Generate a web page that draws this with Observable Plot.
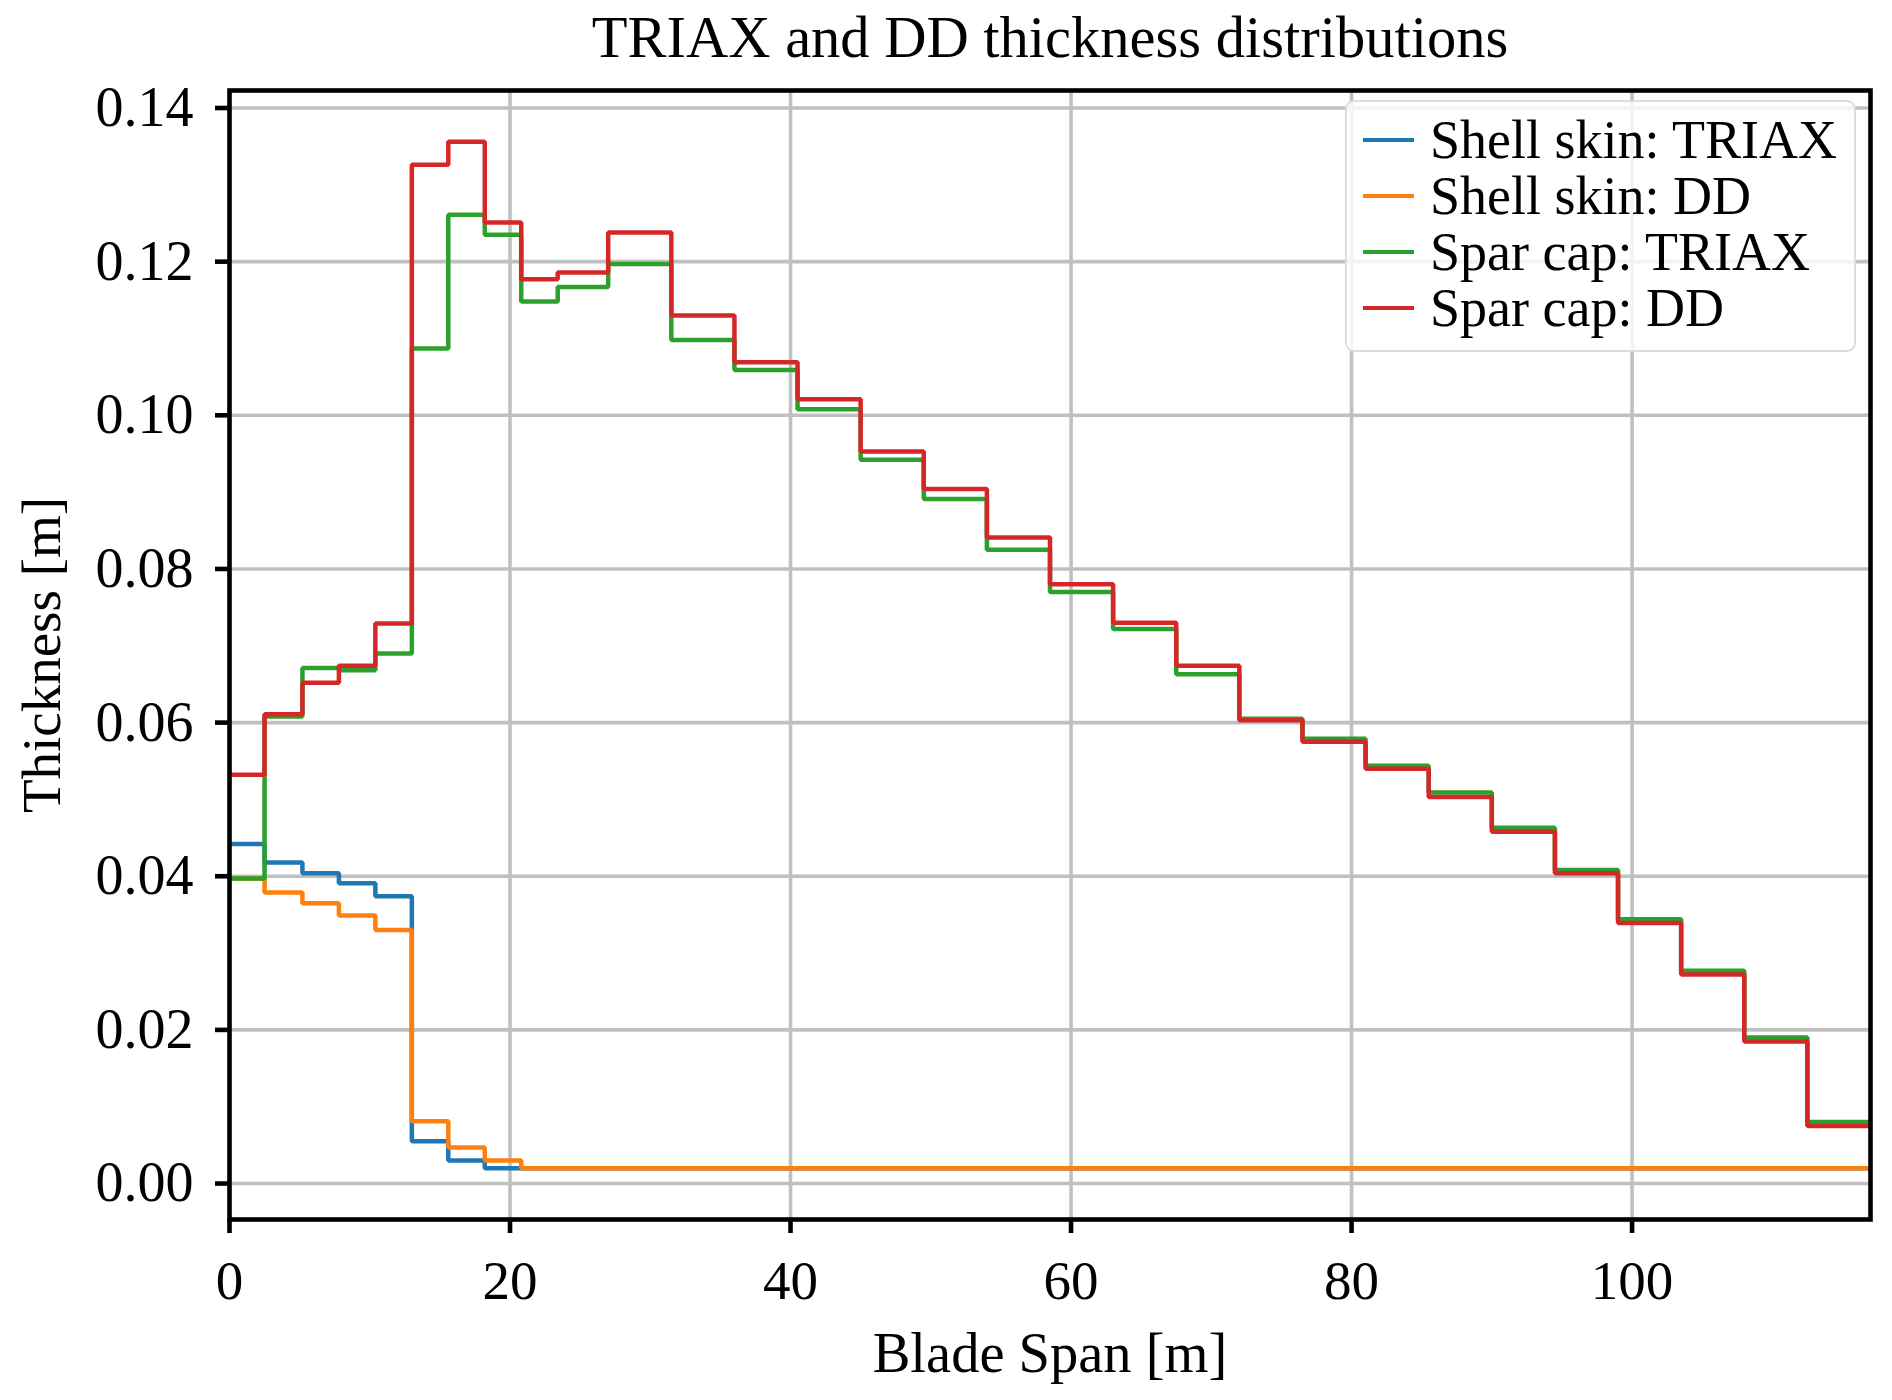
<!DOCTYPE html>
<html>
<head>
<meta charset="utf-8">
<script src="https://cdn.jsdelivr.net/npm/d3@7"></script>
<script src="https://cdn.jsdelivr.net/npm/@observablehq/plot@0.6"></script>
<style>
  html, body { margin: 0; padding: 0; background: #fff; }
  #wrap { position: relative; width: 1892px; height: 1400px; }
  .legend {
    position: absolute; left: 1345px; top: 100px; width: 507px; height: 238px;
    border: 2px solid #dcdcdc; border-radius: 9px; background: rgba(255,255,255,0.8);
    font-family: "Liberation Serif", serif; font-size: 54px; color: #000;
    box-sizing: content-box; padding-top: 10px;
  }
  .legend .row { display: flex; align-items: center; height: 56px; white-space: pre; }
  .legend .sw { display: inline-block; width: 51px; height: 4.5px; margin-left: 16px; margin-right: 16px; }
</style>
</head>
<body>
<div id="wrap"></div>
<script>
// Blade span station edges [m]
const span = [0, 2.5, 5.2, 7.8, 10.4, 13.0, 15.6, 18.2, 20.8, 23.4, 27.0, 31.5, 36.0, 40.5, 45.0, 49.5, 54.0, 58.5, 63.0, 67.5, 72.0, 76.5, 81.0, 85.5, 90.0, 94.5, 99.0, 103.5, 108.0, 112.5, 117.0];

// Thickness per segment [m]
const shellTriax = [0.0442, 0.0418, 0.0404, 0.0391, 0.0374, 0.0055, 0.0030, 0.0020, 0.0020, 0.0020, 0.0020, 0.0020, 0.0020, 0.0020, 0.0020, 0.0020, 0.0020, 0.0020, 0.0020, 0.0020, 0.0020, 0.0020, 0.0020, 0.0020, 0.0020, 0.0020, 0.0020, 0.0020, 0.0020, 0.0020];
const shellDD = [0.0397, 0.0379, 0.0365, 0.0349, 0.0330, 0.0081, 0.0047, 0.0030, 0.0020, 0.0020, 0.0020, 0.0020, 0.0020, 0.0020, 0.0020, 0.0020, 0.0020, 0.0020, 0.0020, 0.0020, 0.0020, 0.0020, 0.0020, 0.0020, 0.0020, 0.0020, 0.0020, 0.0020, 0.0020, 0.0020];
const sparTriax = [0.0397, 0.0608, 0.0671, 0.0668, 0.0690, 0.1087, 0.1261, 0.1235, 0.1148, 0.1167, 0.1197, 0.1098, 0.1059, 0.1008, 0.0942, 0.0891, 0.0825, 0.0770, 0.0722, 0.0663, 0.0605, 0.0579, 0.0544, 0.0509, 0.0463, 0.0408, 0.0344, 0.0277, 0.0190, 0.0080];
const sparDD = [0.0532, 0.0611, 0.0652, 0.0674, 0.0729, 0.1326, 0.1356, 0.1251, 0.1177, 0.1186, 0.1238, 0.1130, 0.1069, 0.1021, 0.0953, 0.0904, 0.0841, 0.0780, 0.0730, 0.0674, 0.0603, 0.0575, 0.0540, 0.0503, 0.0458, 0.0404, 0.0339, 0.0272, 0.0185, 0.0075];

const seriesNames = ["Shell skin: TRIAX", "Shell skin: DD", "Spar cap: TRIAX", "Spar cap: DD"];
const seriesColors = ["#1f77b4", "#ff7f0e", "#2ca02c", "#d62728"];
const xTicks = [0, 20, 40, 60, 80, 100];
const yTicks = [0, 0.02, 0.04, 0.06, 0.08, 0.10, 0.12, 0.14];
const titleText = "TRIAX and DD thickness distributions";
const xLabel = "Blade Span [m]";
const yLabel = "Thickness [m]";

const allSeries = [shellTriax, shellDD, sparTriax, sparDD];
const rows = allSeries.flatMap((vals, s) =>
  span.map((x, i) => ({x, y: vals[Math.min(i, vals.length - 1)], s: seriesNames[s]}))
);
const allY = allSeries.flat();
const ymin = d3.min(allY), ymax = d3.max(allY), pad = (ymax - ymin) * 0.05;

const font = "Liberation Serif";
const plot = Plot.plot({
  width: 1892,
  height: 1400,
  marginLeft: 229,
  marginRight: 22,
  marginTop: 90,
  marginBottom: 181,
  style: {fontFamily: font, background: "white", color: "black"},
  x: {domain: [span[0], span[span.length - 1]]},
  y: {domain: [ymin - pad, ymax + pad]},
  color: {domain: seriesNames, range: seriesColors},
  marks: [
    Plot.gridX(xTicks, {stroke: "#c0c0c0", strokeOpacity: 1, strokeWidth: 3.6}),
    Plot.gridY(yTicks, {stroke: "#c0c0c0", strokeOpacity: 1, strokeWidth: 3.6}),
    Plot.line(rows, {x: "x", y: "y", z: "s", stroke: "s", curve: "step-after", strokeWidth: 4.5, strokeLinejoin: "miter", strokeLinecap: "butt"}),
    Plot.frame({stroke: "black", strokeWidth: 4.6}),
    Plot.axisX(xTicks, {tickSize: 14, tickPadding: 26, fontSize: 55, strokeWidth: 4.6, label: null}),
    Plot.axisY(yTicks, {tickSize: 14, tickPadding: 22, fontSize: 56, strokeWidth: 4.6, tickFormat: d3.format(".2f"), label: null}),
    Plot.text([titleText], {text: d => d, frameAnchor: "top", lineAnchor: "middle", textAnchor: "middle", dy: -52, fontSize: 58.5, fill: "black"}),
    Plot.text([xLabel], {text: d => d, frameAnchor: "bottom", lineAnchor: "middle", textAnchor: "middle", dy: 134, fontSize: 56.5, fill: "black"}),
    Plot.text([yLabel], {text: d => d, frameAnchor: "left", lineAnchor: "middle", textAnchor: "middle", dx: -187, rotate: -90, fontSize: 55, fill: "black"})
  ]
});

const wrap = document.getElementById("wrap");
wrap.appendChild(plot);

const legend = document.createElement("div");
legend.className = "legend";
seriesNames.forEach((name, i) => {
  const row = document.createElement("div");
  row.className = "row";
  const sw = document.createElement("span");
  sw.className = "sw";
  sw.style.background = seriesColors[i];
  const label = document.createElement("span");
  label.textContent = name;
  row.appendChild(sw);
  row.appendChild(label);
  legend.appendChild(row);
});
wrap.appendChild(legend);
</script>
</body>
</html>
